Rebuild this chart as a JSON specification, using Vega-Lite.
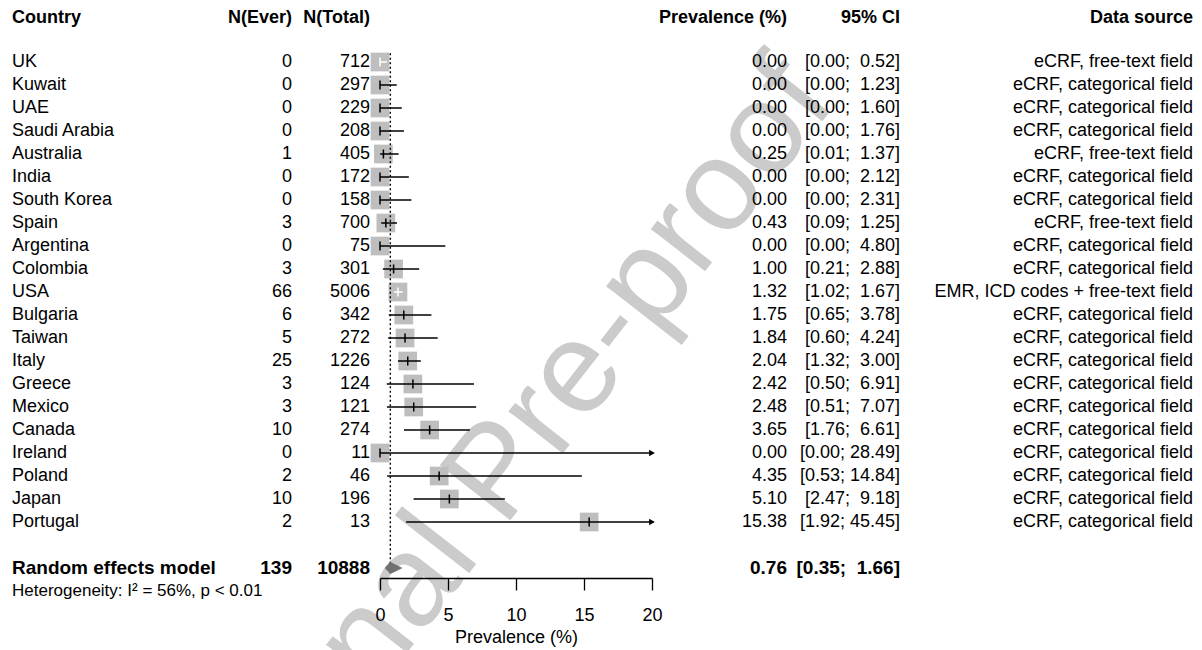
{
  "$schema": "https://vega.github.io/schema/vega-lite/v6.json",
  "padding": {"left": 12, "top": 0, "right": 9, "bottom": 0},
  "bounds": "flush",
  "spacing": 10,
  "config": {
    "view": {"stroke": null},
    "font": "Liberation Sans",
    "text": {"fontSize": 18, "color": "black"},
    "axis": {"grid": false}
  },
  "datasets": {
    "rows": [
      {"kind": "study", "country": "UK", "ever": 0, "total": 712, "est": 0.00, "lo": 0.00, "hi": 0.52, "source": "eCRF, free-text field"},
      {"kind": "study", "country": "Kuwait", "ever": 0, "total": 297, "est": 0.00, "lo": 0.00, "hi": 1.23, "source": "eCRF, categorical field"},
      {"kind": "study", "country": "UAE", "ever": 0, "total": 229, "est": 0.00, "lo": 0.00, "hi": 1.60, "source": "eCRF, categorical field"},
      {"kind": "study", "country": "Saudi Arabia", "ever": 0, "total": 208, "est": 0.00, "lo": 0.00, "hi": 1.76, "source": "eCRF, categorical field"},
      {"kind": "study", "country": "Australia", "ever": 1, "total": 405, "est": 0.25, "lo": 0.01, "hi": 1.37, "source": "eCRF, free-text field"},
      {"kind": "study", "country": "India", "ever": 0, "total": 172, "est": 0.00, "lo": 0.00, "hi": 2.12, "source": "eCRF, categorical field"},
      {"kind": "study", "country": "South Korea", "ever": 0, "total": 158, "est": 0.00, "lo": 0.00, "hi": 2.31, "source": "eCRF, categorical field"},
      {"kind": "study", "country": "Spain", "ever": 3, "total": 700, "est": 0.43, "lo": 0.09, "hi": 1.25, "source": "eCRF, free-text field"},
      {"kind": "study", "country": "Argentina", "ever": 0, "total": 75, "est": 0.00, "lo": 0.00, "hi": 4.80, "source": "eCRF, categorical field"},
      {"kind": "study", "country": "Colombia", "ever": 3, "total": 301, "est": 1.00, "lo": 0.21, "hi": 2.88, "source": "eCRF, categorical field"},
      {"kind": "study", "country": "USA", "ever": 66, "total": 5006, "est": 1.32, "lo": 1.02, "hi": 1.67, "source": "EMR, ICD codes + free-text field"},
      {"kind": "study", "country": "Bulgaria", "ever": 6, "total": 342, "est": 1.75, "lo": 0.65, "hi": 3.78, "source": "eCRF, categorical field"},
      {"kind": "study", "country": "Taiwan", "ever": 5, "total": 272, "est": 1.84, "lo": 0.60, "hi": 4.24, "source": "eCRF, categorical field"},
      {"kind": "study", "country": "Italy", "ever": 25, "total": 1226, "est": 2.04, "lo": 1.32, "hi": 3.00, "source": "eCRF, categorical field"},
      {"kind": "study", "country": "Greece", "ever": 3, "total": 124, "est": 2.42, "lo": 0.50, "hi": 6.91, "source": "eCRF, categorical field"},
      {"kind": "study", "country": "Mexico", "ever": 3, "total": 121, "est": 2.48, "lo": 0.51, "hi": 7.07, "source": "eCRF, categorical field"},
      {"kind": "study", "country": "Canada", "ever": 10, "total": 274, "est": 3.65, "lo": 1.76, "hi": 6.61, "source": "eCRF, categorical field"},
      {"kind": "study", "country": "Ireland", "ever": 0, "total": 11, "est": 0.00, "lo": 0.00, "hi": 28.49, "source": "eCRF, categorical field"},
      {"kind": "study", "country": "Poland", "ever": 2, "total": 46, "est": 4.35, "lo": 0.53, "hi": 14.84, "source": "eCRF, categorical field"},
      {"kind": "study", "country": "Japan", "ever": 10, "total": 196, "est": 5.10, "lo": 2.47, "hi": 9.18, "source": "eCRF, categorical field"},
      {"kind": "study", "country": "Portugal", "ever": 2, "total": 13, "est": 15.38, "lo": 1.92, "hi": 45.45, "source": "eCRF, categorical field"},
      {"kind": "pooled", "country": "Random effects model", "ever": 139, "total": 10888, "est": 0.76, "lo": 0.35, "hi": 1.66, "source": ""}
    ]
  },
  "hconcat": [
    {
      "width": 210, "height": 578,
      "data": {"name": "rows"},
      "transform": [
        {"window": [{"op": "row_number", "as": "rn"}]},
        {"calculate": "datum.kind === 'pooled' ? 24 : datum.rn + 1", "as": "row"}
      ],
      "encoding": {
        "x": {"datum": 0, "type": "quantitative", "scale": {"domain": [0, 1], "nice": false, "zero": false}, "axis": null},
        "y": {"field": "row", "type": "quantitative", "scale": {"domain": [-0.6957, 24.4348], "reverse": true, "nice": false, "zero": false}, "axis": null}
      },
      "layer": [
        {
          "transform": [{"filter": "datum.rn === 1"}],
          "mark": {"type": "text", "align": "center", "baseline": "middle", "fontSize": 130, "angle": -52, "color": "#cbcbcb"},
          "encoding": {
            "x": {"datum": 2.312, "type": "quantitative", "scale": {"domain": [0, 1], "nice": false, "zero": false}, "axis": null},
            "y": {"datum": 19.89, "type": "quantitative", "scale": {"domain": [-0.6957, 24.4348], "reverse": true, "nice": false, "zero": false}, "axis": null},
            "text": {"value": "Journal Pre-proof"}
          }
        },
        {
          "transform": [{"filter": "datum.rn === 1"}],
          "mark": {"type": "text", "align": "left", "baseline": "middle", "fontWeight": "bold"},
          "encoding": {
            "y": {"datum": 0.1, "type": "quantitative", "scale": {"domain": [-0.6957, 24.4348], "reverse": true, "nice": false, "zero": false}, "axis": null},
            "text": {"value": "Country"}
          }
        },
        {
          "transform": [{"filter": "datum.kind === 'study'"}],
          "mark": {"type": "text", "align": "left", "baseline": "middle"},
          "encoding": {"text": {"field": "country", "type": "nominal"}}
        },
        {
          "transform": [{"filter": "datum.kind === 'pooled'"}],
          "mark": {"type": "text", "align": "left", "baseline": "middle", "fontWeight": "bold", "fontSize": 19},
          "encoding": {"text": {"field": "country", "type": "nominal"}}
        },
        {
          "transform": [{"filter": "datum.kind === 'pooled'"}],
          "mark": {"type": "text", "align": "left", "baseline": "middle", "fontSize": 17},
          "encoding": {
            "y": {"datum": 25, "type": "quantitative", "scale": {"domain": [-0.6957, 24.4348], "reverse": true, "nice": false, "zero": false}, "axis": null},
            "text": {"value": "Heterogeneity: I\u00b2 = 56%, p < 0.01"}
          }
        }
      ]
    },
    {
      "width": 60, "height": 578,
      "data": {"name": "rows"},
      "transform": [
        {"window": [{"op": "row_number", "as": "rn"}]},
        {"calculate": "datum.kind === 'pooled' ? 24 : datum.rn + 1", "as": "row"}
      ],
      "encoding": {
        "x": {"datum": 1, "type": "quantitative", "scale": {"domain": [0, 1], "nice": false, "zero": false}, "axis": null},
        "y": {"field": "row", "type": "quantitative", "scale": {"domain": [-0.6957, 24.4348], "reverse": true, "nice": false, "zero": false}, "axis": null}
      },
      "layer": [
        {
          "transform": [{"filter": "datum.rn === 1"}],
          "mark": {"type": "text", "align": "right", "baseline": "middle", "fontWeight": "bold"},
          "encoding": {
            "y": {"datum": 0.1, "type": "quantitative", "scale": {"domain": [-0.6957, 24.4348], "reverse": true, "nice": false, "zero": false}, "axis": null},
            "text": {"value": "N(Ever)"}
          }
        },
        {
          "transform": [{"filter": "datum.kind === 'study'"}],
          "mark": {"type": "text", "align": "right", "baseline": "middle"},
          "encoding": {"text": {"field": "ever", "type": "quantitative", "format": "d"}}
        },
        {
          "transform": [{"filter": "datum.kind === 'pooled'"}],
          "mark": {"type": "text", "align": "right", "baseline": "middle", "fontWeight": "bold", "fontSize": 19},
          "encoding": {"text": {"field": "ever", "type": "quantitative", "format": "d"}}
        }
      ]
    },
    {
      "width": 68, "height": 578,
      "data": {"name": "rows"},
      "transform": [
        {"window": [{"op": "row_number", "as": "rn"}]},
        {"calculate": "datum.kind === 'pooled' ? 24 : datum.rn + 1", "as": "row"}
      ],
      "encoding": {
        "x": {"datum": 1, "type": "quantitative", "scale": {"domain": [0, 1], "nice": false, "zero": false}, "axis": null},
        "y": {"field": "row", "type": "quantitative", "scale": {"domain": [-0.6957, 24.4348], "reverse": true, "nice": false, "zero": false}, "axis": null}
      },
      "layer": [
        {
          "transform": [{"filter": "datum.rn === 1"}],
          "mark": {"type": "text", "align": "right", "baseline": "middle", "fontWeight": "bold"},
          "encoding": {
            "y": {"datum": 0.1, "type": "quantitative", "scale": {"domain": [-0.6957, 24.4348], "reverse": true, "nice": false, "zero": false}, "axis": null},
            "text": {"value": "N(Total)"}
          }
        },
        {
          "transform": [{"filter": "datum.kind === 'study'"}],
          "mark": {"type": "text", "align": "right", "baseline": "middle"},
          "encoding": {"text": {"field": "total", "type": "quantitative", "format": "d"}}
        },
        {
          "transform": [{"filter": "datum.kind === 'pooled'"}],
          "mark": {"type": "text", "align": "right", "baseline": "middle", "fontWeight": "bold", "fontSize": 19},
          "encoding": {"text": {"field": "total", "type": "quantitative", "format": "d"}}
        }
      ]
    },
    {
      "width": 272, "height": 578,
      "data": {"name": "rows"},
      "transform": [
        {"window": [{"op": "row_number", "as": "rn"}]},
        {"calculate": "datum.kind === 'pooled' ? 24 : datum.rn + 1", "as": "row"}
      ],
      "encoding": {
        "y": {"field": "row", "type": "quantitative", "scale": {"domain": [-0.6957, 24.4348], "reverse": true, "nice": false, "zero": false}, "axis": null}
      },
      "layer": [
        {
          "transform": [{"filter": "datum.kind === 'study'"}],
          "mark": {"type": "square", "size": 350, "color": "#bebebe", "opacity": 1},
          "encoding": {
            "x": {"field": "est", "type": "quantitative", "title": "Prevalence (%)",
                  "scale": {"domain": [0, 20], "nice": false, "zero": false, "clamp": true},
                  "axis": {"values": [0, 5, 10, 15, 20], "grid": false, "domainColor": "black", "domainWidth": 1.3, "tickColor": "black", "tickWidth": 1.3, "tickSize": 12, "labelFontSize": 18, "labelColor": "black", "labelPadding": 16, "labelFlush": false, "titleFontSize": 18, "titleFontWeight": "normal", "titleColor": "black", "titleBaseline": "top", "titleY": 50.5}}
          }
        },
        {
          "transform": [{"filter": "datum.kind === 'pooled'"}],
          "mark": {"type": "rule", "strokeDash": [2, 2.5], "strokeWidth": 1.4, "color": "black"},
          "encoding": {
            "x": {"field": "est", "type": "quantitative", "title": "Prevalence (%)",
                  "scale": {"domain": [0, 20], "nice": false, "zero": false, "clamp": true},
                  "axis": {"values": [0, 5, 10, 15, 20], "grid": false, "domainColor": "black", "domainWidth": 1.3, "tickColor": "black", "tickWidth": 1.3, "tickSize": 12, "labelFontSize": 18, "labelColor": "black", "labelPadding": 16, "labelFlush": false, "titleFontSize": 18, "titleFontWeight": "normal", "titleColor": "black", "titleBaseline": "top", "titleY": 50.5}},
            "y": {"datum": 1.62, "type": "quantitative", "scale": {"domain": [-0.6957, 24.4348], "reverse": true, "nice": false, "zero": false}, "axis": null},
            "y2": {"datum": 23.8}
          }
        },
        {
          "transform": [{"filter": "datum.kind === 'study'"}],
          "mark": {"type": "rule", "strokeWidth": 1.5},
          "encoding": {
            "x": {"field": "lo", "type": "quantitative", "title": "Prevalence (%)",
                  "scale": {"domain": [0, 20], "nice": false, "zero": false, "clamp": true},
                  "axis": {"values": [0, 5, 10, 15, 20], "grid": false, "domainColor": "black", "domainWidth": 1.3, "tickColor": "black", "tickWidth": 1.3, "tickSize": 12, "labelFontSize": 18, "labelColor": "black", "labelPadding": 16, "labelFlush": false, "titleFontSize": 18, "titleFontWeight": "normal", "titleColor": "black", "titleBaseline": "top", "titleY": 50.5}},
            "x2": {"field": "hi"},
            "color": {"condition": {"test": "datum.lo >= datum.est - 0.66 && datum.hi <= datum.est + 0.66", "value": "white"}, "value": "black"}
          }
        },
        {
          "transform": [{"filter": "datum.kind === 'study'"}],
          "mark": {"type": "tick", "orient": "vertical", "size": 9, "thickness": 1.5, "opacity": 1},
          "encoding": {
            "x": {"field": "est", "type": "quantitative", "title": "Prevalence (%)",
                  "scale": {"domain": [0, 20], "nice": false, "zero": false, "clamp": true},
                  "axis": {"values": [0, 5, 10, 15, 20], "grid": false, "domainColor": "black", "domainWidth": 1.3, "tickColor": "black", "tickWidth": 1.3, "tickSize": 12, "labelFontSize": 18, "labelColor": "black", "labelPadding": 16, "labelFlush": false, "titleFontSize": 18, "titleFontWeight": "normal", "titleColor": "black", "titleBaseline": "top", "titleY": 50.5}},
            "color": {"condition": {"test": "datum.lo >= datum.est - 0.66 && datum.hi <= datum.est + 0.66", "value": "white"}, "value": "black"}
          }
        },
        {
          "transform": [{"filter": "datum.kind === 'study' && datum.hi > 20"}],
          "mark": {"type": "point", "shape": "triangle-right", "filled": true, "size": 45, "color": "black", "opacity": 1},
          "encoding": {
            "x": {"field": "hi", "type": "quantitative", "title": "Prevalence (%)",
                  "scale": {"domain": [0, 20], "nice": false, "zero": false, "clamp": true},
                  "axis": {"values": [0, 5, 10, 15, 20], "grid": false, "domainColor": "black", "domainWidth": 1.3, "tickColor": "black", "tickWidth": 1.3, "tickSize": 12, "labelFontSize": 18, "labelColor": "black", "labelPadding": 16, "labelFlush": false, "titleFontSize": 18, "titleFontWeight": "normal", "titleColor": "black", "titleBaseline": "top", "titleY": 50.5}}
          }
        },
        {
          "transform": [
            {"filter": "datum.kind === 'pooled'"},
            {"fold": ["lo", "est", "hi"], "as": ["k", "v"]},
            {"calculate": "datum.k === 'est' ? 23.74 : 24", "as": "yt"},
            {"calculate": "datum.k === 'est' ? 24.26 : 24", "as": "yb"}
          ],
          "mark": {"type": "area", "orient": "vertical", "color": "#707070", "opacity": 1},
          "encoding": {
            "x": {"field": "v", "type": "quantitative", "title": "Prevalence (%)",
                  "scale": {"domain": [0, 20], "nice": false, "zero": false, "clamp": true},
                  "axis": {"values": [0, 5, 10, 15, 20], "grid": false, "domainColor": "black", "domainWidth": 1.3, "tickColor": "black", "tickWidth": 1.3, "tickSize": 12, "labelFontSize": 18, "labelColor": "black", "labelPadding": 16, "labelFlush": false, "titleFontSize": 18, "titleFontWeight": "normal", "titleColor": "black", "titleBaseline": "top", "titleY": 50.5}},
            "y": {"field": "yt", "type": "quantitative", "stack": null, "scale": {"domain": [-0.6957, 24.4348], "reverse": true, "nice": false, "zero": false}, "axis": null},
            "y2": {"field": "yb"}
          }
        }
      ]
    },
    {
      "width": 125, "height": 578,
      "data": {"name": "rows"},
      "transform": [
        {"window": [{"op": "row_number", "as": "rn"}]},
        {"calculate": "datum.kind === 'pooled' ? 24 : datum.rn + 1", "as": "row"}
      ],
      "encoding": {
        "x": {"datum": 1, "type": "quantitative", "scale": {"domain": [0, 1], "nice": false, "zero": false}, "axis": null},
        "y": {"field": "row", "type": "quantitative", "scale": {"domain": [-0.6957, 24.4348], "reverse": true, "nice": false, "zero": false}, "axis": null}
      },
      "layer": [
        {
          "transform": [{"filter": "datum.rn === 1"}],
          "mark": {"type": "text", "align": "right", "baseline": "middle", "fontWeight": "bold"},
          "encoding": {
            "y": {"datum": 0.1, "type": "quantitative", "scale": {"domain": [-0.6957, 24.4348], "reverse": true, "nice": false, "zero": false}, "axis": null},
            "text": {"value": "Prevalence (%)"}
          }
        },
        {
          "transform": [{"filter": "datum.kind === 'study'"}],
          "mark": {"type": "text", "align": "right", "baseline": "middle"},
          "encoding": {"text": {"field": "est", "type": "quantitative", "format": ".2f"}}
        },
        {
          "transform": [{"filter": "datum.kind === 'pooled'"}],
          "mark": {"type": "text", "align": "right", "baseline": "middle", "fontWeight": "bold", "fontSize": 19},
          "encoding": {"text": {"field": "est", "type": "quantitative", "format": ".2f"}}
        }
      ]
    },
    {
      "width": 103, "height": 578,
      "data": {"name": "rows"},
      "transform": [
        {"window": [{"op": "row_number", "as": "rn"}]},
        {"calculate": "datum.kind === 'pooled' ? 24 : datum.rn + 1", "as": "row"},
        {"calculate": "'[' + format(datum.lo, '.2f') + ';' + (datum.hi < 10 ? '\u00a0\u00a0' : ' ') + format(datum.hi, '.2f') + ']'", "as": "ci"}
      ],
      "encoding": {
        "x": {"datum": 1, "type": "quantitative", "scale": {"domain": [0, 1], "nice": false, "zero": false}, "axis": null},
        "y": {"field": "row", "type": "quantitative", "scale": {"domain": [-0.6957, 24.4348], "reverse": true, "nice": false, "zero": false}, "axis": null}
      },
      "layer": [
        {
          "transform": [{"filter": "datum.rn === 1"}],
          "mark": {"type": "text", "align": "right", "baseline": "middle", "fontWeight": "bold"},
          "encoding": {
            "y": {"datum": 0.1, "type": "quantitative", "scale": {"domain": [-0.6957, 24.4348], "reverse": true, "nice": false, "zero": false}, "axis": null},
            "text": {"value": "95% CI"}
          }
        },
        {
          "transform": [{"filter": "datum.kind === 'study'"}],
          "mark": {"type": "text", "align": "right", "baseline": "middle"},
          "encoding": {"text": {"field": "ci", "type": "nominal"}}
        },
        {
          "transform": [{"filter": "datum.kind === 'pooled'"}],
          "mark": {"type": "text", "align": "right", "baseline": "middle", "fontWeight": "bold", "fontSize": 19},
          "encoding": {"text": {"field": "ci", "type": "nominal"}}
        }
      ]
    },
    {
      "width": 283, "height": 578,
      "data": {"name": "rows"},
      "transform": [
        {"window": [{"op": "row_number", "as": "rn"}]},
        {"calculate": "datum.kind === 'pooled' ? 24 : datum.rn + 1", "as": "row"}
      ],
      "encoding": {
        "x": {"datum": 1, "type": "quantitative", "scale": {"domain": [0, 1], "nice": false, "zero": false}, "axis": null},
        "y": {"field": "row", "type": "quantitative", "scale": {"domain": [-0.6957, 24.4348], "reverse": true, "nice": false, "zero": false}, "axis": null}
      },
      "layer": [
        {
          "transform": [{"filter": "datum.rn === 1"}],
          "mark": {"type": "text", "align": "right", "baseline": "middle", "fontWeight": "bold"},
          "encoding": {
            "y": {"datum": 0.1, "type": "quantitative", "scale": {"domain": [-0.6957, 24.4348], "reverse": true, "nice": false, "zero": false}, "axis": null},
            "text": {"value": "Data source"}
          }
        },
        {
          "transform": [{"filter": "datum.kind === 'study'"}],
          "mark": {"type": "text", "align": "right", "baseline": "middle"},
          "encoding": {"text": {"field": "source", "type": "nominal"}}
        }
      ]
    }
  ]
}
